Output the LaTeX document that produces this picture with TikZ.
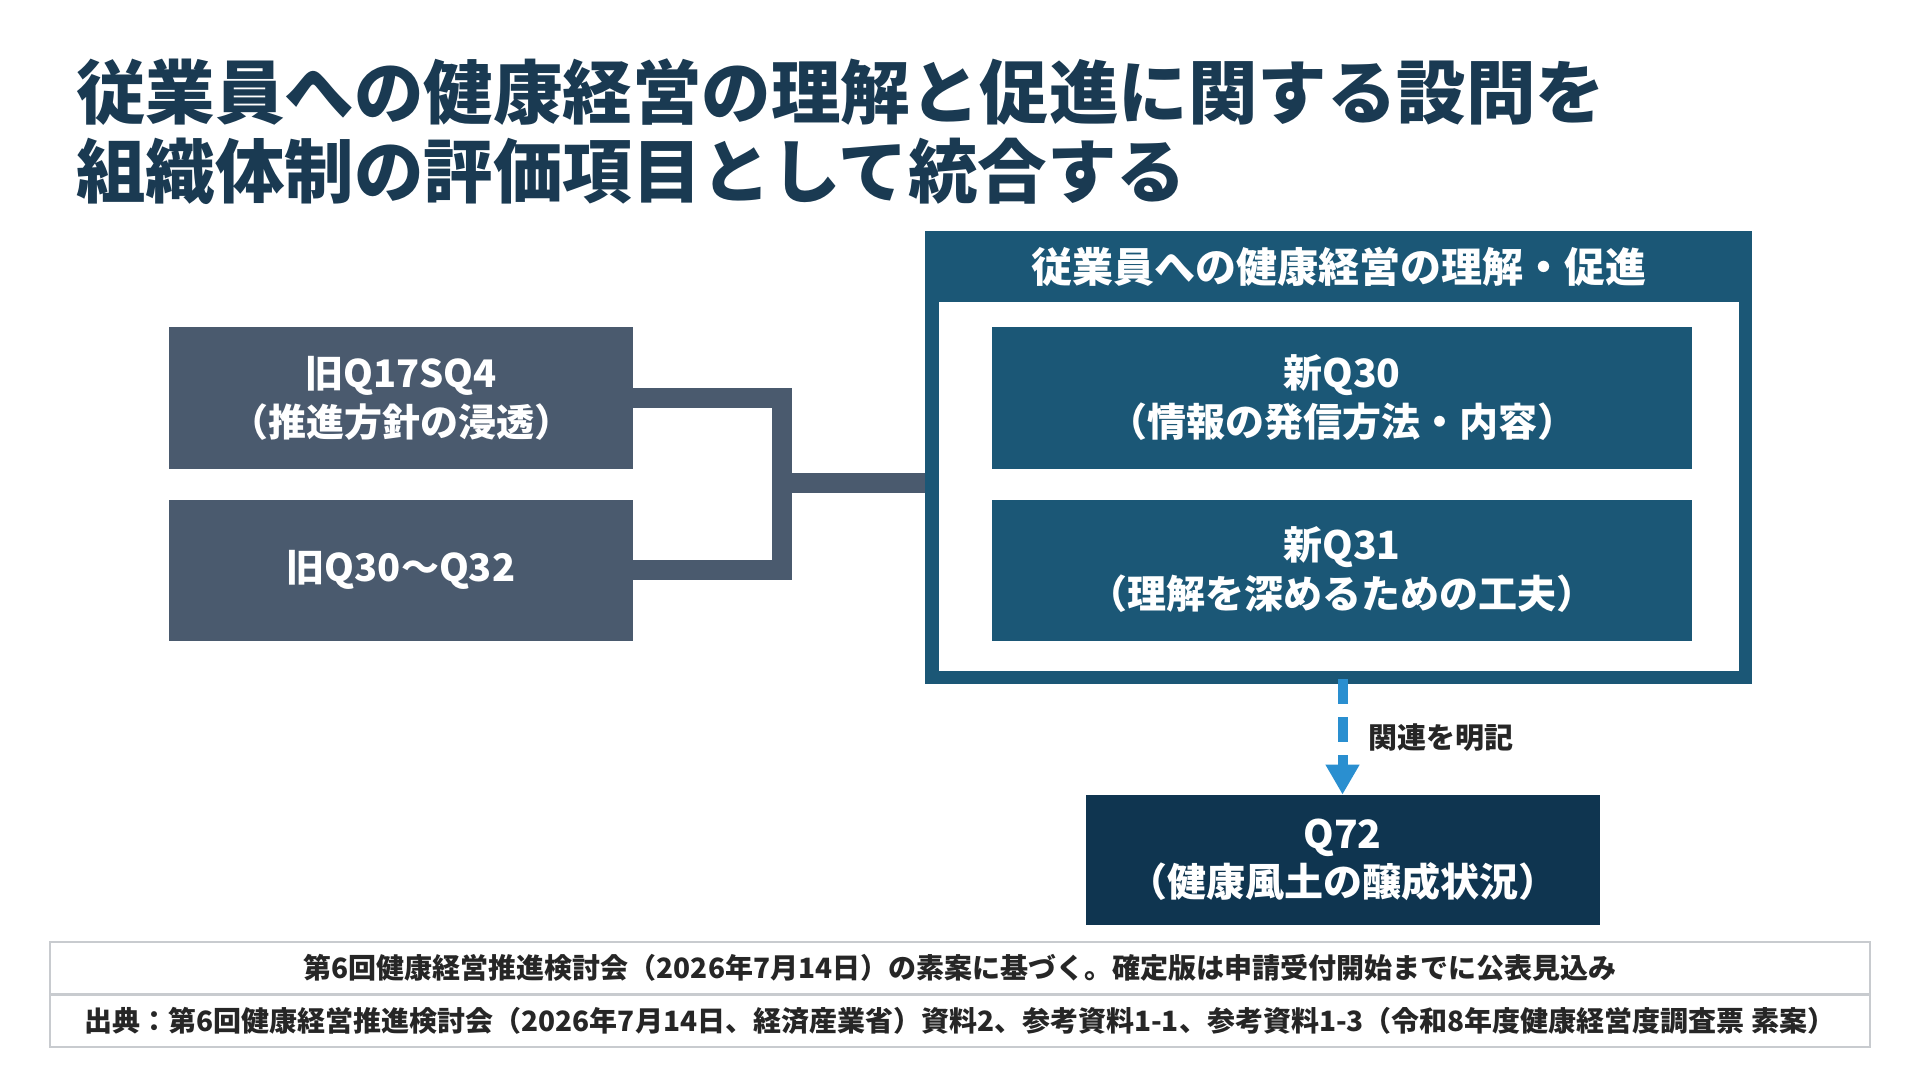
\documentclass[tikz,border=0pt]{standalone}
\usepackage{fontspec}
\setmainfont{Noto Sans CJK JP}
\usetikzlibrary{arrows.meta}
\definecolor{titlenavy}{HTML}{1A3A52}
\definecolor{oldslate}{HTML}{4A5A6E}
\definecolor{grpteal}{HTML}{1B5776}
\definecolor{qnavy}{HTML}{0F3550}
\definecolor{linkblue}{HTML}{2A8FD0}
\definecolor{footgray}{HTML}{C8CBCF}
\tikzstyle{oldbox} = [rectangle, fill=oldslate, text=white, minimum width=232pt, minimum height=70.5pt, inner sep=0pt, align=center, font=\bfseries\fontsize{19}{24.5}\selectfont]
\tikzstyle{newbox} = [rectangle, fill=grpteal, text=white, minimum width=350pt, minimum height=70.5pt, inner sep=0pt, align=center, font=\bfseries\fontsize{19.5}{24.5}\selectfont]
\tikzstyle{conn} = [line width=10pt, oldslate, line join=miter]
\tikzstyle{link} = [line width=5pt, linkblue, dash pattern=on 12.5pt off 6.5pt, -{Triangle[width=16pt,length=15pt]}]
\tikzstyle{footbox} = [rectangle, draw=footgray, line width=1pt, fill=white, minimum width=910pt, minimum height=26pt, inner sep=0pt, text=black!85, font=\bfseries\fontsize{14}{16}\selectfont]
\tikzset{
    titleline/.style={anchor=west, inner sep=0pt, text=titlenavy, font=\bfseries\fontsize{34.75}{40}\selectfont}
}

\begin{document}
\begin{tikzpicture}[x=0.5pt, y=-0.5pt]
        \fill[white] (0,0) rectangle (1920,1080);
        \useasboundingbox (0,0) rectangle (1920,1080);

        \node at (76,92) [titleline] (T1) {従業員への健康経営の理解と促進に関する設問を};
        \node at (76,171) [titleline] (T2) {組織体制の評価項目として統合する};

        % old questions
        \node at (401,398) [oldbox] (OLDA) {旧Q17SQ4\\（推進方針の浸透）};
        \node at (401,570) [oldbox] (OLDB) {旧Q30〜Q32};

        % group box
        \node at (1338.5,457.5) [rectangle, fill=grpteal, minimum width=413.5pt, minimum height=226.5pt, inner sep=0pt] (GRP) {};
        \fill[white] (939,302) rectangle (1739,671);
        \node at (1338.5,267) [inner sep=0pt, text=white, font=\bfseries\fontsize{20.5}{24}\selectfont] (GRPT) {従業員への健康経営の理解・促進};
        \node at (1342,398) [newbox] (NEWA) {新Q30\\（情報の発信方法・内容）};
        \node at (1342,570) [newbox] (NEWB) {新Q31\\（理解を深めるための工夫）};

        \coordinate (J) at (782,483);
        \draw [conn] (OLDA.east) -| (J) |- (OLDB.east);
        \draw [conn] (J) -- (J -| GRP.west);

        \node at (1342.5,860) [rectangle, fill=qnavy, text=white, minimum width=257pt, minimum height=65pt, inner sep=0pt, align=center, font=\bfseries\fontsize{19.5}{24}\selectfont] (Q72) {Q72\\（健康風土の醸成状況）};
        \coordinate (S) at (1342.5,679);
        \draw [link] (S) -- (Q72.north);
        \node at (1368,738) [anchor=west, inner sep=0pt, text=black!85, font=\bfseries\fontsize{14.5}{16}\selectfont] (REL) {関連を明記};

        \node at (960,968) [footbox] (NOTE) {第6回健康経営推進検討会（2026年7月14日）の素案に基づく。確定版は申請受付開始までに公表見込み};
        \node at (960,1020.5) [footbox] (SRC) {出典：第6回健康経営推進検討会（2026年7月14日、経済産業省）資料2、参考資料1-1、参考資料1-3（令和8年度健康経営度調査票 素案）};
\end{tikzpicture}
\end{document}
